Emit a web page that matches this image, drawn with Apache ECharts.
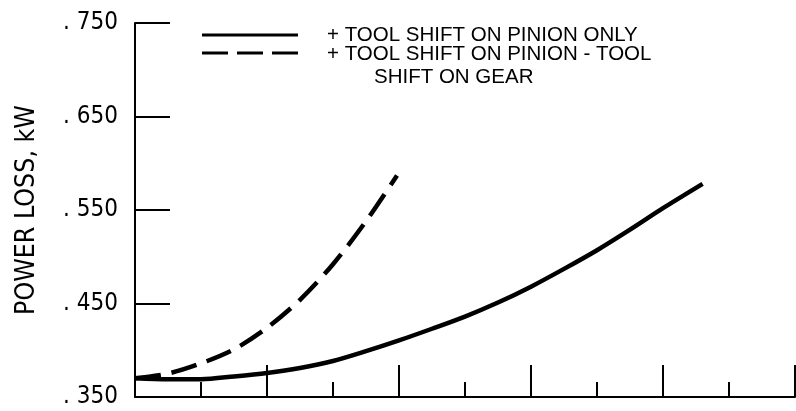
<!DOCTYPE html>
<html>
<head>
<meta charset="UTF-8">
<title>Power loss</title>
<script src="https://cdn.jsdelivr.net/npm/echarts@6/dist/echarts.min.js"></script>
<style>
  html, body { margin: 0; padding: 0; background: #fff; }
</style>
</head>
<body>
	<div id="main" style="width: 796px; height: 411px;"></div>
	<script type="text/javascript">
		// curve values (x in tick units 0..10, y in kW)
		var pinionOnlyX = [0, 0.5, 1, 1.5, 2, 2.5, 3, 3.5, 4, 4.5, 5, 5.5, 6, 6.5, 7, 7.5, 8, 8.6];
		var pinionOnlyY = [0.370, 0.369, 0.369, 0.372, 0.3757, 0.381, 0.3885, 0.399, 0.4105, 0.423, 0.436, 0.451, 0.468, 0.487, 0.507, 0.529, 0.552, 0.578];
		var pinionGearX = [0, 0.5, 1, 1.5, 2, 2.5, 3, 3.5, 3.97];
		var pinionGearY = [0.370, 0.375, 0.386, 0.401, 0.424, 0.454, 0.492, 0.538, 0.587];
		var seriesNames = ['+ TOOL SHIFT ON PINION ONLY', '+ TOOL SHIFT ON PINION - TOOL SHIFT ON GEAR'];
		var legendLines = ['+ TOOL SHIFT ON PINION ONLY', '+ TOOL SHIFT ON PINION - TOOL', 'SHIFT ON GEAR'];
		var yTicks = [0.35, 0.45, 0.55, 0.65, 0.75];

		function pairs(xs, ys) {
			return xs.map(function (x, i) { return [x, ys[i]]; });
		}

		var condensed = '"DejaVu Sans Condensed", "Liberation Sans", sans-serif';
		var regular = '"Liberation Sans", Arial, sans-serif';
		var legendFont = '20.5px ' + regular;

		var myChart = echarts.init(document.getElementById('main'));
		var option = {
			animation: false,
			grid: { left: 135, right: 1, top: 23, bottom: 14 },
			// legend drawn by hand so the second entry can wrap like the original
			graphic: [
				{ type: 'line', shape: { x1: 202, y1: 35, x2: 298, y2: 35 }, style: { stroke: '#000', lineWidth: 3 } },
				{ type: 'line', shape: { x1: 202, y1: 53, x2: 298, y2: 53 }, style: { stroke: '#000', lineWidth: 3, lineDash: [26, 9] } },
				{ type: 'text', x: 327, y: 35, style: { text: legendLines[0], font: legendFont, fill: '#000', verticalAlign: 'middle' } },
				{ type: 'text', x: 327, y: 54.5, style: { text: legendLines[1], font: legendFont, fill: '#000', verticalAlign: 'middle' } },
				{ type: 'text', x: 374, y: 77.5, style: { text: legendLines[2], font: legendFont, fill: '#000', verticalAlign: 'middle' } }
			],
			xAxis: {
				type: 'value',
				min: 0,
				max: 10,
				interval: 2,
				axisLine: { lineStyle: { color: '#000', width: 2 } },
				axisTick: { inside: true, length: 32, lineStyle: { color: '#000', width: 2 } },
				minorTick: { show: true, splitNumber: 2, length: 15, lineStyle: { color: '#000', width: 2 } },
				axisLabel: { show: false },
				splitLine: { show: false }
			},
			yAxis: {
				type: 'value',
				min: yTicks[0],
				max: yTicks[yTicks.length - 1],
				interval: 0.1,
				name: 'POWER LOSS, kW',
				nameLocation: 'middle',
				nameGap: 94,
				nameTextStyle: { fontFamily: condensed, fontSize: 26.5, color: '#000' },
				axisLine: { lineStyle: { color: '#000', width: 2 } },
				axisTick: { inside: true, length: 35, lineStyle: { color: '#000', width: 2 } },
				axisLabel: {
					margin: 17,
					fontFamily: condensed,
					fontSize: 24,
					color: '#000',
					formatter: function (v) { return '. ' + v.toFixed(3).slice(2); }
				},
				splitLine: { show: false }
			},
			series: [
				{
					name: seriesNames[0],
					type: 'line',
					smooth: 0.3,
					symbol: 'none',
					itemStyle: { color: '#000' },
					lineStyle: { color: '#000', width: 4.5 },
					data: pairs(pinionOnlyX, pinionOnlyY)
				},
				{
					name: seriesNames[1],
					type: 'line',
					smooth: 0.3,
					symbol: 'none',
					itemStyle: { color: '#000' },
					lineStyle: { color: '#000', width: 4.5, type: [26, 11] },
					data: pairs(pinionGearX, pinionGearY)
				}
			]
		};
		myChart.setOption(option);
	</script>
</body>
</html>
